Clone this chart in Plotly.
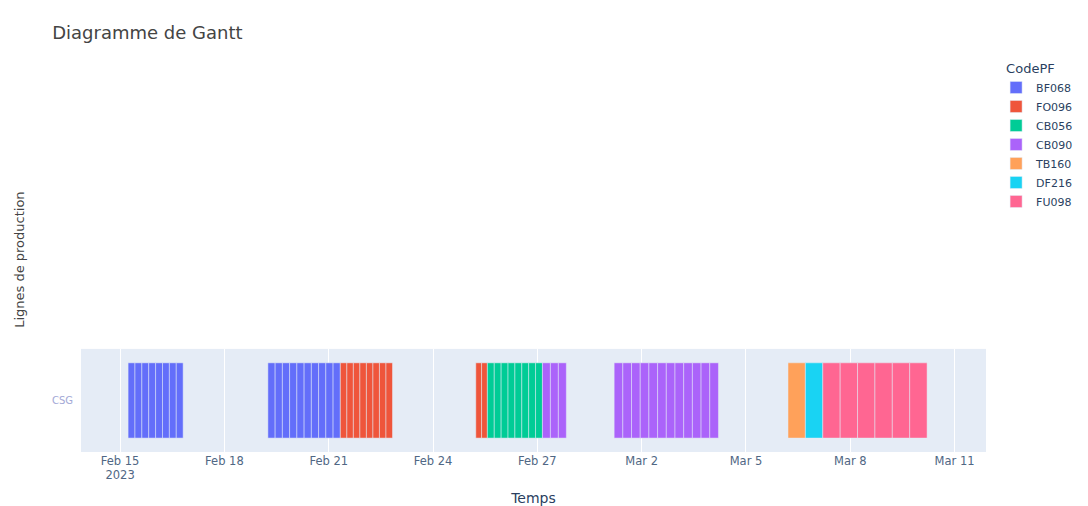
import pandas as pd
import plotly.express as px

line_name = "CSG"

codes = (
    ["BF068"] * 8
    + ["BF068"] * 10
    + ["FO096"] * 8
    + ["FO096"] * 2
    + ["CB056"] * 8
    + ["CB090"] * 3
    + ["CB090"] * 12
    + ["TB160"]
    + ["DF216"]
    + ["FU098"] * 6
)

starts = [
    # BF068
    "2023-02-15 05:30", "2023-02-15 10:15", "2023-02-15 15:00", "2023-02-15 19:45",
    "2023-02-16 00:30", "2023-02-16 05:15", "2023-02-16 10:00", "2023-02-16 14:45",
    "2023-02-19 06:00", "2023-02-19 11:00", "2023-02-19 16:00", "2023-02-19 21:00",
    "2023-02-20 02:00", "2023-02-20 07:00", "2023-02-20 12:00", "2023-02-20 17:00",
    "2023-02-20 22:00", "2023-02-21 03:00",
    # FO096
    "2023-02-21 08:00", "2023-02-21 12:30", "2023-02-21 17:00", "2023-02-21 21:30",
    "2023-02-22 02:00", "2023-02-22 06:30", "2023-02-22 11:00", "2023-02-22 15:30",
    "2023-02-25 05:30", "2023-02-25 09:30",
    # CB056
    "2023-02-25 13:30", "2023-02-25 18:15", "2023-02-25 23:00", "2023-02-26 03:45",
    "2023-02-26 08:30", "2023-02-26 13:15", "2023-02-26 18:00", "2023-02-26 22:45",
    # CB090
    "2023-02-27 03:30", "2023-02-27 09:00", "2023-02-27 14:30",
    "2023-03-01 05:00", "2023-03-01 11:00", "2023-03-01 17:00", "2023-03-01 23:00",
    "2023-03-02 05:00", "2023-03-02 11:00", "2023-03-02 17:00", "2023-03-02 23:00",
    "2023-03-03 05:00", "2023-03-03 11:00", "2023-03-03 17:00", "2023-03-03 23:00",
    # TB160
    "2023-03-06 05:00",
    # DF216
    "2023-03-06 17:00",
    # FU098
    "2023-03-07 05:00", "2023-03-07 17:00", "2023-03-08 05:00", "2023-03-08 17:00",
    "2023-03-09 05:00", "2023-03-09 17:00",
]

ends = [
    # BF068
    "2023-02-15 10:15", "2023-02-15 15:00", "2023-02-15 19:45", "2023-02-16 00:30",
    "2023-02-16 05:15", "2023-02-16 10:00", "2023-02-16 14:45", "2023-02-16 19:30",
    "2023-02-19 11:00", "2023-02-19 16:00", "2023-02-19 21:00", "2023-02-20 02:00",
    "2023-02-20 07:00", "2023-02-20 12:00", "2023-02-20 17:00", "2023-02-20 22:00",
    "2023-02-21 03:00", "2023-02-21 08:00",
    # FO096
    "2023-02-21 12:30", "2023-02-21 17:00", "2023-02-21 21:30", "2023-02-22 02:00",
    "2023-02-22 06:30", "2023-02-22 11:00", "2023-02-22 15:30", "2023-02-22 20:00",
    "2023-02-25 09:30", "2023-02-25 13:30",
    # CB056
    "2023-02-25 18:15", "2023-02-25 23:00", "2023-02-26 03:45", "2023-02-26 08:30",
    "2023-02-26 13:15", "2023-02-26 18:00", "2023-02-26 22:45", "2023-02-27 03:30",
    # CB090
    "2023-02-27 09:00", "2023-02-27 14:30", "2023-02-27 20:00",
    "2023-03-01 11:00", "2023-03-01 17:00", "2023-03-01 23:00", "2023-03-02 05:00",
    "2023-03-02 11:00", "2023-03-02 17:00", "2023-03-02 23:00", "2023-03-03 05:00",
    "2023-03-03 11:00", "2023-03-03 17:00", "2023-03-03 23:00", "2023-03-04 05:00",
    # TB160
    "2023-03-06 17:00",
    # DF216
    "2023-03-07 05:00",
    # FU098
    "2023-03-07 17:00", "2023-03-08 05:00", "2023-03-08 17:00", "2023-03-09 05:00",
    "2023-03-09 17:00", "2023-03-10 05:00",
]

legend_order = ["BF068", "FO096", "CB056", "CB090", "TB160", "DF216", "FU098"]
x_range = ["2023-02-13 21:00", "2023-03-11 21:40"]
first_tick = "2023-02-15"

df = pd.DataFrame({
    "Ligne": [line_name] * len(codes),
    "CodePF": codes,
    "Debut": pd.to_datetime(starts),
    "Fin": pd.to_datetime(ends),
})

fig = px.timeline(
    df, x_start="Debut", x_end="Fin", y="Ligne", color="CodePF",
    category_orders={"CodePF": legend_order},
)
fig.update_traces(width=0.73)

fig.update_layout(
    width=1088, height=506,
    margin=dict(l=81, r=102, t=60, b=54, autoexpand=False),
    font=dict(family="DejaVu Sans, Verdana, sans-serif", size=12, color="#2a3f5f"),
    title=dict(text="Diagramme de Gantt", x=0.048, y=0.936, yanchor="middle",
               font=dict(size=18, color="#444")),
    legend=dict(title_text="CodePF", font=dict(size=11), y=1.01, indentation=-8),
    xaxis=dict(title_text="Temps", range=x_range, dtick=3 * 86400000, tick0=first_tick,
               tickfont=dict(size=11.5, color="#506784"), automargin=False),
    yaxis=dict(domain=[0, 0.263], title_text="", automargin=False, ticklabelstandoff=7,
               tickfont=dict(size=10, color="#a3a9d6")),
)
fig.add_annotation(
    text="Lignes de production", xref="paper", yref="paper",
    x=-0.078, y=0.49, textangle=-90, showarrow=False,
    font=dict(size=13, color="#444"),
)

fig.write_html("out.html")
